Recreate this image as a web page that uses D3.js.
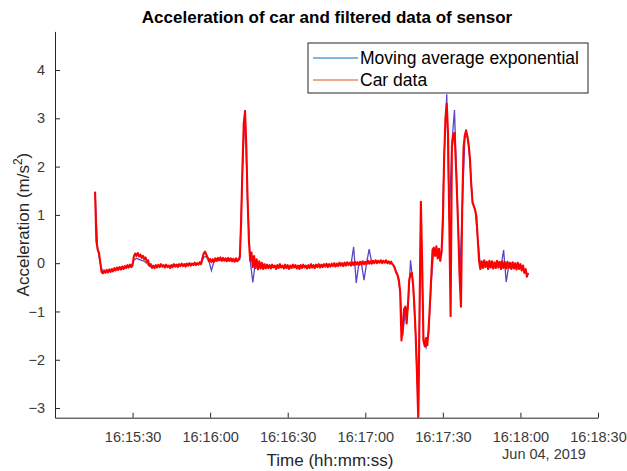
<!DOCTYPE html>
<html>
<head>
<meta charset="utf-8">
<script src="https://cdn.jsdelivr.net/npm/d3@7"></script>
<style>
  body { margin: 0; background: #fff; }
  svg { display: block; font-family: "Liberation Sans", Arial, sans-serif; }
</style>
</head>
<body>
<div id="chart"></div>
<script>
// sensor log, 16:15:00 on Jun 04 2019 is t = 0
const startTime = new Date(2019, 5, 4, 16, 15, 0);
const xTicks = ["16:15:30", "16:16:00", "16:16:30", "16:17:00", "16:17:30", "16:18:00", "16:18:30"];
const yTicks = [-3, -2, -1, 0, 1, 2, 3, 4];
const seriesNames = ["Moving average exponential", "Car data"];

// car data, one sample every 0.5 s starting at t = 15.5 s
const carStart = 15.5, carStep = 0.5;
const carData = [
  1.48, 0.45, 0.28, 0.22, 0.02, -0.18, -0.21, -0.15, -0.2, -0.14,
  -0.19, -0.13, -0.18, -0.12, -0.17, -0.1, -0.15, -0.09, -0.14, -0.08,
  -0.13, -0.07, -0.12, -0.06, -0.1, -0.04, -0.09, -0.03, -0.08, -0.04,
  0.14, 0.2, 0.15, 0.21, 0.14, 0.18, 0.11, 0.15, 0.08, 0.12,
  0.03, 0.06, -0.05, -0.02, -0.1, -0.05, -0.1, -0.04, -0.09, -0.03,
  -0.08, -0.02, -0.07, -0.04, -0.09, -0.03, -0.08, -0.05, -0.1, -0.04,
  -0.08, -0.02, -0.07, -0.03, -0.08, -0.02, -0.06, -0.01, -0.06, -0.02,
  -0.07, -0.01, -0.05, 0.0, -0.05, -0.01, -0.04, 0.01, -0.04, 0.0,
  -0.03, 0.02, -0.02, 0.1, 0.2, 0.24, 0.18, 0.12, 0.04, 0.09,
  0.02, 0.08, 0.03, 0.1, 0.05, 0.11, 0.06, 0.12, 0.05, 0.11,
  0.06, 0.1, 0.04, 0.11, 0.05, 0.1, 0.04, 0.09, 0.03, 0.1,
  0.04, 0.08, 0.14, 0.9, 2.0, 2.9, 3.15, 2.4, 1.3, 0.45,
  0.05, 0.22, -0.08, 0.15, -0.1, 0.08, -0.13, 0.04, -0.11, 0.01,
  -0.12, -0.02, -0.11, -0.03, -0.1, -0.04, -0.11, -0.03, -0.09, -0.05,
  -0.12, -0.04, -0.1, -0.02, -0.09, -0.05, -0.11, -0.03, -0.1, -0.04,
  -0.12, -0.05, -0.1, -0.03, -0.09, -0.04, -0.11, -0.05, -0.12, -0.04,
  -0.1, -0.03, -0.09, -0.05, -0.11, -0.04, -0.1, -0.02, -0.09, -0.04,
  -0.1, -0.03, -0.08, -0.02, -0.09, -0.03, -0.08, -0.02, -0.07, -0.01,
  -0.08, -0.02, -0.07, -0.01, -0.06, 0.0, -0.07, -0.01, -0.06, 0.01,
  -0.05, 0.0, -0.06, 0.01, -0.05, 0.02, -0.04, 0.01, -0.05, 0.02,
  -0.04, 0.03, -0.03, 0.02, -0.04, 0.03, -0.03, 0.04, -0.02, 0.03,
  -0.02, 0.05, -0.01, 0.04, -0.01, 0.05, 0.0, 0.06, 0.0, 0.05,
  0.01, 0.06, 0.0, 0.05, 0.01, 0.06, 0.0, 0.04, -0.01, 0.03,
  -0.02, -0.05, -0.12, -0.2, -0.25, -0.35, -0.6, -1.6, -1.3, -0.95,
  -0.9, -1.25, -0.85, -0.35, -0.22, -0.2, -0.45, -0.9, -1.5, -2.3,
  -3.25, -0.9, 1.27, 0.0, -1.6, -1.72, -1.55, -1.7, -1.35, -0.85,
  -0.3, 0.28, 0.32, 0.15, 0.35, 0.1, 0.3, 0.05, 0.25, 0.8,
  2.2, 3.0, 3.3, 2.7, 0.8, -1.1, 2.4, 2.65, 2.7, 2.1,
  1.4, 0.6, -0.3, -0.9, 1.2, 2.4, 2.65, 2.75, 2.62, 2.45,
  2.15, 1.6, 1.25, 1.18, 1.1, 0.95, 0.5, 0.05, -0.12, 0.04,
  -0.1, 0.06, -0.08, 0.03, -0.12, 0.05, -0.09, 0.04, -0.11, 0.02,
  -0.1, 0.05, -0.09, 0.03, -0.12, 0.04, -0.1, 0.02, -0.11, 0.03,
  -0.1, 0.01, -0.12, 0.02, -0.11, 0.0, -0.13, 0.01, -0.12, -0.02,
  -0.15, -0.05, -0.2, -0.12, -0.28, -0.2
];

// filtered data, one sample every 1 s starting at t = 15.5 s
const filtStart = 15.5, filtStep = 1;
const filtData = [
  1.48, 0.3, 0.0, -0.2, -0.18, -0.16, -0.15, -0.14, -0.12, -0.11,
  -0.1, -0.09, -0.08, -0.07, -0.06, 0.06, 0.1, 0.08, 0.06, 0.04,
  0.0, -0.06, -0.08, -0.07, -0.06, -0.05, -0.06, -0.07, -0.05, -0.06,
  -0.04, -0.05, -0.03, -0.04, -0.03, -0.02, -0.03, -0.02, -0.01, -0.02,
  -0.01, 0.0, 0.12, 0.14, 0.05, -0.15, 0.04, 0.05, 0.06, 0.06,
  0.05, 0.06, 0.05, 0.06, 0.05, 0.05, 0.08, 1.9, 3.17, 1.2,
  0.05, -0.4, 0.02, -0.06, -0.05, -0.07, -0.06, -0.07, -0.06, -0.08,
  -0.06, -0.07, -0.05, -0.07, -0.06, -0.08, -0.07, -0.06, -0.07, -0.05,
  -0.06, -0.07, -0.06, -0.05, -0.06, -0.05, -0.04, -0.05, -0.04, -0.05,
  -0.03, -0.04, -0.03, -0.04, -0.03, -0.02, -0.03, -0.02, -0.03, -0.02,
  0.34, -0.41, -0.01, 0.0, -0.35, 0.0, 0.29, 0.01, 0.02, 0.02,
  0.03, 0.03, 0.02, 0.03, 0.02, -0.02, -0.1, -0.25, -0.6, -1.5,
  -0.95, -0.95, 0.06, -0.45, -1.5, -3.1, 1.0, -1.6, -1.75, -1.45,
  -0.4, 0.3, 0.22, 0.2, 0.18, 2.2, 3.5, 0.9, 2.5, 3.17,
  1.5, -0.3, 1.1, 2.6, 2.65, 2.1, 1.25, 1.1, 0.5, -0.05,
  -0.03, -0.05, -0.04, -0.06, -0.04, -0.05, -0.04, -0.06, 0.27, -0.39,
  -0.05, -0.06, -0.05, -0.07, -0.08, -0.1, -0.15, -0.22
];

const W = 627, H = 471;
const plot = { left: 55, right: 598, top: 31.4, bottom: 417.7 };

const svg = d3.select("#chart").append("svg")
  .attr("width", W).attr("height", H);

const x = d3.scaleTime()
  .domain([startTime, d3.timeSecond.offset(startTime, 210)])
  .range([plot.left, plot.right]);
const y = d3.scaleLinear()
  .domain([-3.2, 4.8])
  .range([plot.bottom, plot.top]);

const toTime = s => new Date(startTime.getTime() + s * 1000);
const parseTick = d3.timeParse("%Y-%m-%d %H:%M:%S");
const xTickDates = xTicks.map(t => parseTick("2019-06-04 " + t));

svg.append("defs").append("clipPath").attr("id", "clip")
  .append("rect")
  .attr("x", plot.left).attr("y", plot.top)
  .attr("width", plot.right - plot.left).attr("height", plot.bottom - plot.top);

// lines
const line = d3.line().x(d => x(d.t)).y(d => y(d.v));
const filtPts = filtData.map((v, i) => ({ t: toTime(filtStart + i * filtStep), v }));
const carPts = carData.map((v, i) => ({ t: toTime(carStart + i * carStep), v }));

svg.append("path")
  .datum(filtPts)
  .attr("clip-path", "url(#clip)")
  .attr("fill", "none")
  .attr("stroke", "#5a44c8")
  .attr("stroke-width", 1.3)
  .attr("d", line);

svg.append("path")
  .datum(carPts)
  .attr("clip-path", "url(#clip)")
  .attr("fill", "none")
  .attr("stroke", "#ff0000")
  .attr("stroke-width", 2.1)
  .attr("stroke-linejoin", "round")
  .attr("d", line);

// axes (MATLAB style, ticks inward)
const axisColor = "#262626";
const xAxis = svg.append("g")
  .attr("transform", `translate(0,${plot.bottom})`)
  .call(d3.axisBottom(x).tickValues(xTickDates).tickFormat(d3.timeFormat("%H:%M:%S"))
    .tickSizeInner(-5).tickSizeOuter(0).tickPadding(14));
const yAxis = svg.append("g")
  .attr("transform", `translate(${plot.left},0)`)
  .call(d3.axisLeft(y).tickValues(yTicks).tickSizeInner(-5).tickSizeOuter(0).tickPadding(10));

[xAxis, yAxis].forEach(g => {
  g.select(".domain").attr("stroke", axisColor);
  g.selectAll(".tick line").attr("stroke", axisColor);
  g.selectAll(".tick text")
    .attr("fill", "#3a3a3a")
    .style("font-size", "14.5px")
    .style("font-family", "'Liberation Sans', Arial, sans-serif");
});

// titles
svg.append("text")
  .attr("x", 327).attr("y", 23)
  .attr("text-anchor", "middle")
  .style("font-size", "17px")
  .style("font-weight", "bold")
  .attr("fill", "#000")
  .text("Acceleration of car and filtered data of sensor");

svg.append("text")
  .attr("x", 330).attr("y", 466)
  .attr("text-anchor", "middle")
  .style("font-size", "17px")
  .attr("fill", "#262626")
  .text("Time (hh:mm:ss)");

svg.append("text")
  .attr("x", 544).attr("y", 459)
  .attr("text-anchor", "middle")
  .style("font-size", "14.5px")
  .attr("fill", "#3a3a3a")
  .text("Jun 04, 2019");

const ylab = svg.append("text")
  .attr("transform", `translate(29,${(plot.top + plot.bottom) / 2}) rotate(-90)`)
  .attr("text-anchor", "middle")
  .style("font-size", "17px")
  .attr("fill", "#262626");
ylab.append("tspan").text("Acceleration (m/s");
ylab.append("tspan").attr("dy", -7).style("font-size", "12px").text("2");
ylab.append("tspan").attr("dy", 7).text(")");

// legend
const legendColors = ["#0072bd", "#d95319"];
const legend = svg.append("g").attr("transform", "translate(308,43)");
legend.append("rect")
  .attr("width", 280).attr("height", 50)
  .attr("fill", "#fff")
  .attr("stroke", axisColor)
  .attr("stroke-width", 1);
seriesNames.forEach((name, i) => {
  const ly = 15 + i * 22;
  legend.append("line")
    .attr("x1", 5).attr("x2", 50)
    .attr("y1", ly).attr("y2", ly)
    .attr("stroke", legendColors[i]).attr("stroke-width", 1);
  legend.append("text")
    .attr("x", 52).attr("y", ly + 6)
    .style("font-size", "17.5px")
    .attr("fill", "#000")
    .text(name);
});
</script>
</body>
</html>
